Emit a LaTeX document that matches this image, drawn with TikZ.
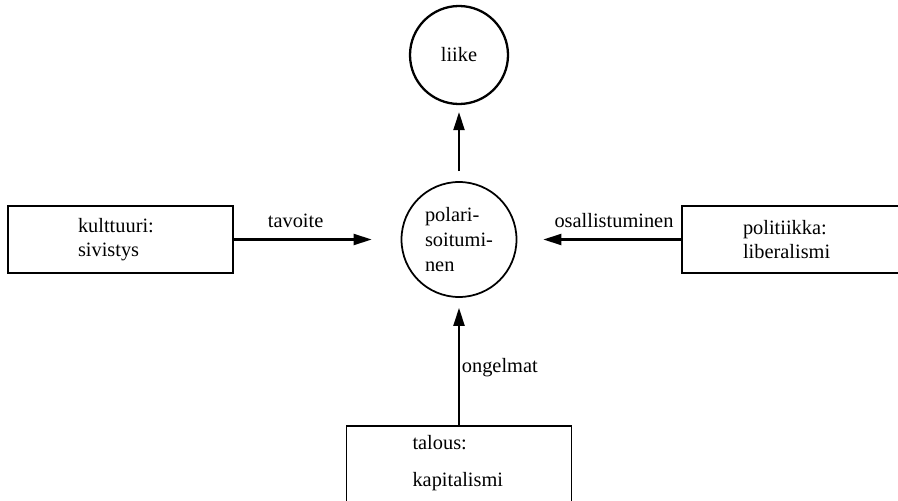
\documentclass[tikz,border=0pt]{standalone}
\usepackage{fontspec}
\setmainfont{Liberation Serif}
\usetikzlibrary{arrows.meta}

\tikzset{
  topic/.style={draw,line width=1pt,rectangle,align=left,minimum height=1.35cm},
  theme/.style={draw,line width=1pt,circle,align=left,inner sep=0pt},
  link/.style={-{Triangle[length=0.36cm,width=0.22cm]},line width=1.3pt},
}

\begin{document}
\begin{tikzpicture}[font=\fontsize{11.6}{14}\selectfont]
\useasboundingbox (0,0) rectangle (17.96,-10.02);
\clip (0,0) rectangle (17.96,-10.02);
\node[theme,minimum size=1.96cm,line width=1.3pt] (liike) at (9.18,-1.1) {liike};
\node[theme,minimum size=2.3cm] (polar) at (9.18,-4.79) {polari-\\soitumi-\\nen};
\node[topic,inner xsep=1.4cm,text width=1.7cm] (kulttuuri) at (2.41,-4.79) {kulttuuri:\\sivistys};
\node[topic,inner xsep=1.22cm,text width=2.12cm] (politiikka) at (15.92,-4.79) {politiikka:\\liberalismi};
\node[topic,anchor=north,inner xsep=1.32cm,inner ysep=0.18cm,text width=1.86cm,text depth=1.3cm] (talous) at (9.18,-8.5) {talous:\\[0.26cm]kapitalismi};
\draw[link,shorten <=0.2cm,shorten >=0.14cm] (polar) -- (liike);
\draw[link,shorten >=0.58cm] (kulttuuri) -- node[pos=0.37,above=0.1cm] {tavoite} (polar);
\draw[link,shorten >=0.52cm] (politiikka) -- node[pos=0.41,above=0.1cm] {osallistuminen} (polar);
\draw[link,shorten >=0.2cm] (talous) -- node[pos=0.45,right,inner sep=1pt] {ongelmat} (polar);
\end{tikzpicture}
\end{document}
